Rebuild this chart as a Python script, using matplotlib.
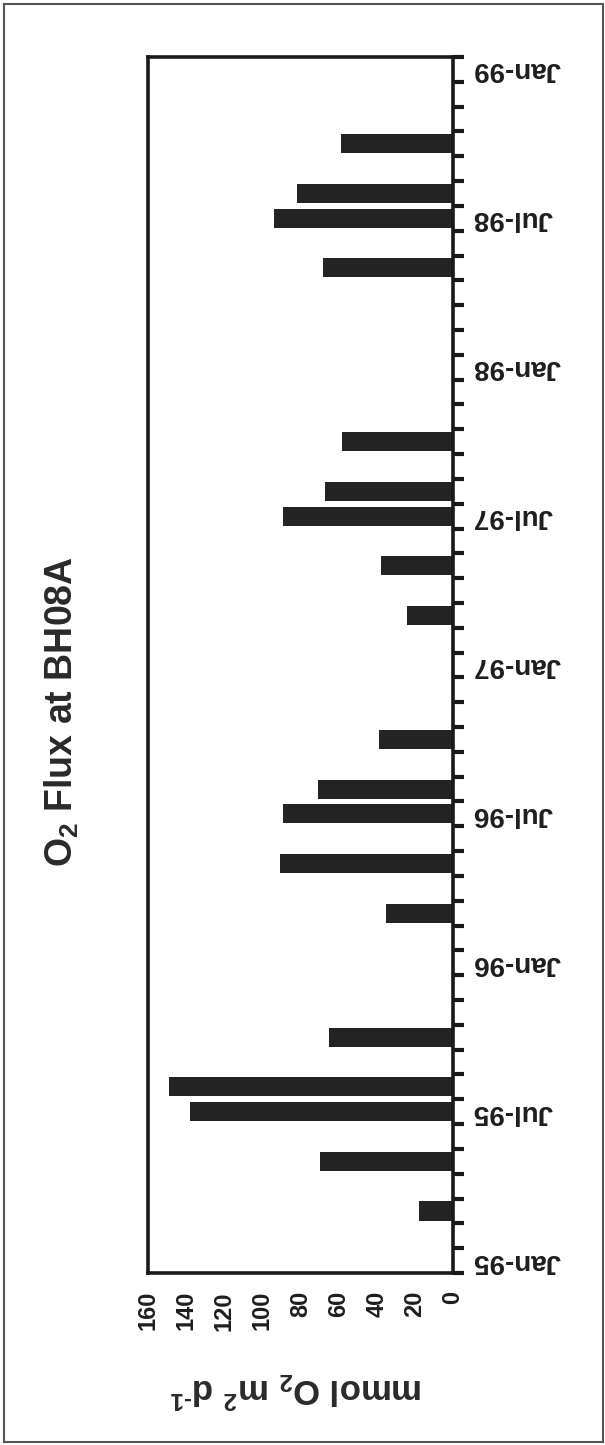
import matplotlib
matplotlib.use("Agg")
import matplotlib.pyplot as plt
import pandas as pd
from matplotlib.patches import Rectangle

plt.rcParams["font.family"] = ["Liberation Sans", "DejaVu Sans"]
plt.rcParams["font.weight"] = "bold"
plt.rcParams["mathtext.fontset"] = "custom"
plt.rcParams["mathtext.rm"] = "Liberation Sans:bold"
plt.rcParams["mathtext.bf"] = "Liberation Sans:bold"
plt.rcParams["mathtext.default"] = "bf"

# Monthly category axis, Jan-95 .. Jan-99
months = pd.date_range("1995-01-01", "1999-01-01", freq="MS")

# Sampled months and the O2 flux measured in each
sample_months = ["1995-03", "1995-05", "1995-07", "1995-08", "1995-10",
                 "1996-03", "1996-05", "1996-07", "1996-08", "1996-10",
                 "1997-03", "1997-05", "1997-07", "1997-08", "1997-10",
                 "1998-05", "1998-07", "1998-08", "1998-10"]
o2_flux = [18, 70, 138, 149, 65,
           35, 91, 89, 71, 39,
           24, 38, 89, 67, 58,
           68, 94, 82, 59]

value_ticks = [0, 20, 40, 60, 80, 100, 120, 140, 160]

month_keys = [m.strftime("%Y-%m") for m in months]
positions = [month_keys.index(m) for m in sample_months]

W, H = 605, 1445
fig = plt.figure(figsize=(W / 100, H / 100), dpi=100)
ax = fig.add_axes([148 / W, 1 - 1273 / H, (453 - 148) / W, (1273 - 57) / H])

ax.barh(positions, o2_flux, height=0.77, color="#232323", zorder=2)

ax.set_xlim(160, 0)
ax.set_ylim(-0.5, len(months) - 0.5)

# category axis on the right: ticks at month boundaries, labels every six months
ax.yaxis.tick_right()
ax.set_yticks([i - 0.5 for i in range(len(months) + 1)])
ax.set_yticklabels([])
label_idx = [i for i, m in enumerate(months) if m.month in (1, 7)]
ax.set_yticks(label_idx, minor=True)
ax.set_yticklabels([months[i].strftime("%b-%y") for i in label_idx], minor=True,
                   rotation=180, ha="left", va="center", fontsize=20,
                   fontweight="bold", color="#1e1e1e")
ax.tick_params(axis="y", which="major", length=8, width=3, direction="out",
               right=True, left=False, color="#1a1a1a")
ax.tick_params(axis="y", which="minor", length=0, pad=14)

# value axis along the bottom
ax.set_xticks(value_ticks)
ax.set_xticklabels([str(v) for v in value_ticks], rotation=90, ha="center",
                   va="top", fontsize=17, fontweight="bold", color="#1e1e1e")
ax.tick_params(axis="x", length=0, pad=13)

for s in ax.spines.values():
    s.set_linewidth(2.6)
    s.set_color("#1a1a1a")

fig.text(62 / W, 1 - 712 / H, "O$_2$ Flux at BH08A", rotation=90,
         ha="center", va="center", fontsize=27, fontweight="bold",
         color="#2a2a2a")
fig.text(296 / W, 1 - 1390 / H, r"mmol O$_2$ m$^2$ d$^{\text{-}1}$", rotation=180,
         ha="center", va="center", fontsize=25, fontweight="bold",
         color="#2a2a2a")

# outer border of the figure panel
fig.patches.append(Rectangle((4 / W, 3 / H), (603 - 4) / W, (1441 - 3) / H,
                             transform=fig.transFigure, fill=False,
                             edgecolor="#555555", linewidth=1.5))

fig.savefig("out.png", dpi=100, facecolor="white")
